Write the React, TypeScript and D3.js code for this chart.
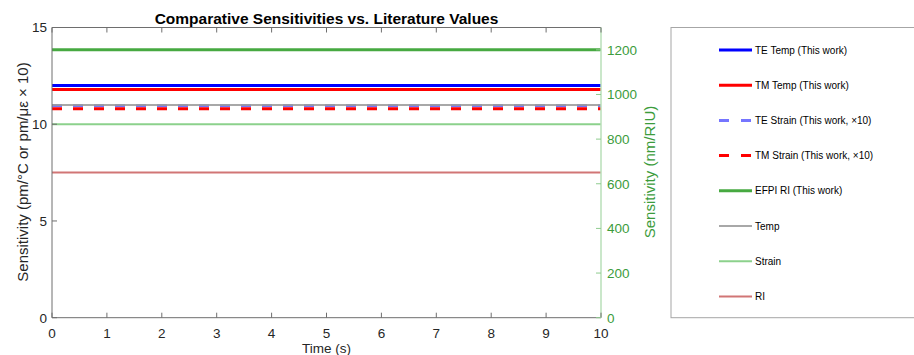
import React from "react";
import * as d3 from "d3";

// Time span (s) and axis ticks
const timeRange = [0, 10];
const xTicks = [0, 1, 2, 3, 4, 5, 6, 7, 8, 9, 10];
const leftTicks = [0, 5, 10, 15];
const rightTicks = [0, 200, 400, 600, 800, 1000, 1200];

// Sensitivity series: name, value, axis, colour, width, dash, opacity
const seriesNames = [
  "TE Temp (This work)",
  "TM Temp (This work)",
  "TE Strain (This work, ×10)",
  "TM Strain (This work, ×10)",
  "EFPI RI (This work)",
  "Temp",
  "Strain",
  "RI",
];
const seriesValues = [12.0, 11.8, 10.95, 10.8, 1200, 11.0, 10.0, 650];
const seriesAxis = ["left", "left", "left", "left", "right", "left", "left", "right"];
const seriesColors = ["#0000ff", "#ff0000", "#2b2bff", "#ff0000", "#33a02c", "#999999", "#7fcc7f", "#cc6666"];
const seriesWidths = [3, 3, 3, 3, 3, 2, 2, 2];
const seriesDash = [false, false, true, true, false, false, false, false];
const seriesOpacity = [1, 1, 0.65, 1, 0.9, 0.85, 0.9, 0.9];

const W = 914;
const H = 355;
const margin = { left: 52, right: 601, top: 27.5, bottom: 317.7 };

export default function App() {
  const x = d3.scaleLinear().domain(timeRange).range([margin.left, margin.right]);
  const yL = d3.scaleLinear().domain([0, 15]).range([margin.bottom, margin.top]);
  const yR = d3.scaleLinear().domain([0, 1300]).range([margin.bottom, margin.top]);
  const line = d3.line<[number, number]>().x((d) => d[0]).y((d) => d[1]);

  const font = "'Liberation Sans', Arial, Helvetica, sans-serif";
  const green = "#3c9c3c";
  const axisCol = "#6e6e6e";

  const legendX = 671;
  const legendRow0 = 50;
  const legendStep = 35.2;

  return (
    <svg width={W} height={H} style={{ position: "absolute", left: 0, top: 0, background: "#fff" }} fontFamily={font}>
      {/* title */}
      <text x={(margin.left + margin.right) / 2} y={23.5} textAnchor="middle" fontSize={15.5} fontWeight="bold" fill="#000">
        Comparative Sensitivities vs. Literature Values
      </text>

      {/* series lines */}
      {seriesNames.map((name, i) => {
        const y = seriesAxis[i] === "left" ? yL(seriesValues[i]) : yR(seriesValues[i]);
        const pts: [number, number][] = timeRange.map((t) => [x(t), y]);
        return (
          <path
            key={name}
            d={line(pts) || ""}
            fill="none"
            stroke={seriesColors[i]}
            strokeWidth={seriesWidths[i]}
            strokeDasharray={seriesDash[i] ? "10 11" : undefined}
            strokeOpacity={seriesOpacity[i]}
          />
        );
      })}

      {/* box: bottom and top x axes */}
      <line x1={margin.left} x2={margin.right} y1={margin.bottom} y2={margin.bottom} stroke={axisCol} strokeWidth={1} />
      <line x1={margin.left} x2={margin.right} y1={margin.top} y2={margin.top} stroke={axisCol} strokeWidth={1} />
      <line x1={margin.left} x2={margin.left} y1={margin.top} y2={margin.bottom} stroke={axisCol} strokeWidth={1} />
      <line x1={margin.right} x2={margin.right} y1={margin.top} y2={margin.bottom} stroke="#b8dfb8" strokeWidth={1.5} />

      {xTicks.map((t) => (
        <g key={"xt" + t}>
          <line x1={x(t)} x2={x(t)} y1={margin.bottom} y2={margin.bottom - 5} stroke={axisCol} />
          <line x1={x(t)} x2={x(t)} y1={margin.top} y2={margin.top + 5} stroke={axisCol} />
          <text x={x(t)} y={337.5} textAnchor="middle" fontSize={13.5} fill="#262626">
            {t}
          </text>
        </g>
      ))}
      <text x={(margin.left + margin.right) / 2} y={352.5} textAnchor="middle" fontSize={13.5} fill="#262626">
        Time (s)
      </text>

      {leftTicks.map((t) => (
        <g key={"yl" + t}>
          <line x1={margin.left} x2={margin.left + 5} y1={yL(t)} y2={yL(t)} stroke={axisCol} />
          <text x={47} y={yL(t) + 4.8} textAnchor="end" fontSize={13.5} fill="#262626">
            {t}
          </text>
        </g>
      ))}
      <text
        transform={`translate(28, ${172}) rotate(-90)`}
        textAnchor="middle"
        fontSize={15}
        fill="#262626"
      >
        Sensitivity (pm/°C or pm/με × 10)
      </text>

      {rightTicks.map((t) => (
        <g key={"yr" + t}>
          <line x1={margin.right} x2={margin.right - 5} y1={yR(t)} y2={yR(t)} stroke="#8fcc8f" />
          <text x={607} y={yR(t) + 4.8} textAnchor="start" fontSize={13.5} fill={green}>
            {t}
          </text>
        </g>
      ))}
      <text
        transform={`translate(655, ${172}) rotate(-90)`}
        textAnchor="middle"
        fontSize={15}
        fill={green}
      >
        Sensitivity (nm/RIU)
      </text>

      {/* legend */}
      <rect x={legendX} y={margin.top} width={260} height={margin.bottom - margin.top} fill="#fff" stroke="#a6a6a6" strokeWidth={1} />
      {seriesNames.map((name, i) => {
        const ly = legendRow0 + i * legendStep;
        return (
          <g key={"lg" + name}>
            <line
              x1={719}
              x2={752}
              y1={ly}
              y2={ly}
              stroke={seriesColors[i]}
              strokeWidth={seriesWidths[i]}
              strokeDasharray={seriesDash[i] ? "10 12" : undefined}
              strokeOpacity={seriesOpacity[i]}
            />
            <text x={755} y={ly + 3.5} fontSize={10} fill="#000">
              {name}
            </text>
          </g>
        );
      })}
    </svg>
  );
}
